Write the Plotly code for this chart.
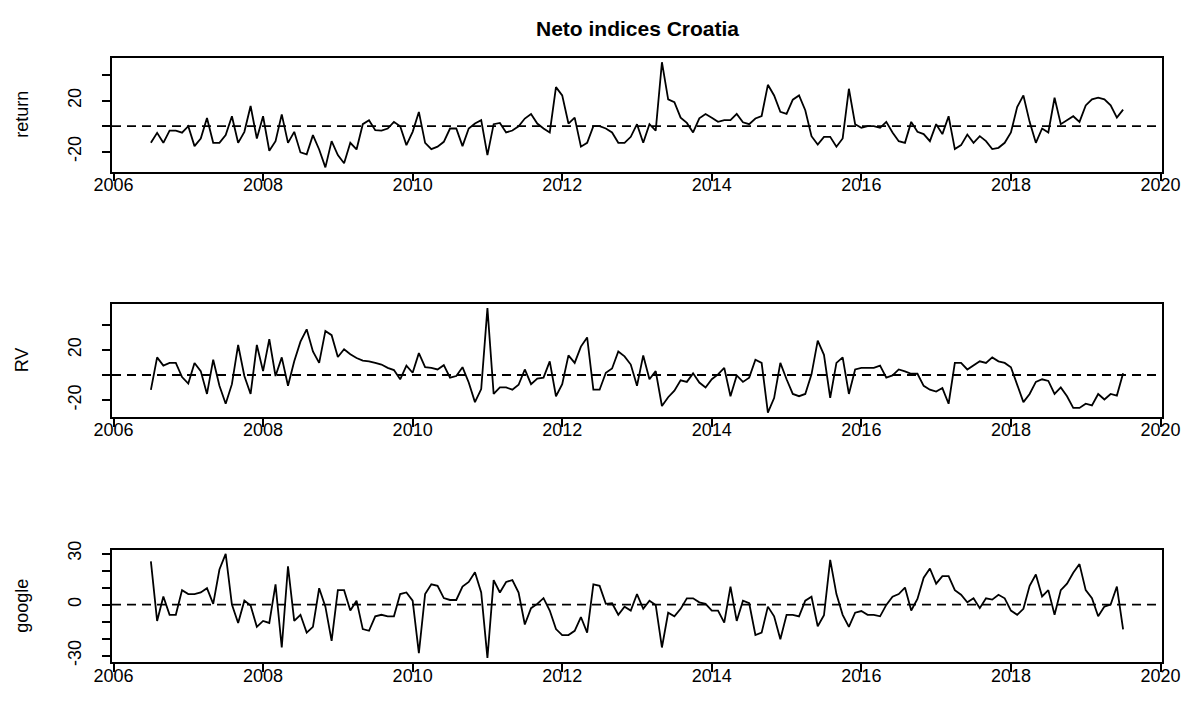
import numpy as np
import plotly.graph_objects as go

# ---------------- data ----------------
start_year = 2006.5          # July 2006, monthly series
n_months = 157
time = [start_year + m / 12 for m in range(n_months)]

ret = [-13, -5.2, -13, -3.4, -3.4, -5, 0, -15.6, -9.6, 6.5, -13, -13, -7, 7.8, -13, -4.4, 15.8, -9.6, 7.8,
       -19.2, -11.7, 9.3, -13, -4.4, -20.5, -22, -7, -18.2, -32.2, -11.7, -22.6, -29, -13, -18.2, 1.6, 4.7, -3.1,
       -3.4, -1.8, 3.4, 0, -14.8, -4.4, 11.2, -13, -17.9, -16, -12.2, -1.8, -1.8, -15.6, -1.8, 2.1, 4.7, -22.6,
       1.6, 2.6, -4.9, -3.4, 0, 6, 9.6, 2.1, -1.8, -4.9, 30.6, 24.1, 2.1, 6.7, -16, -13, 0, 0, -1.8, -4.9, -13,
       -13, -8.3, 1.6, -13,
       1.6, -3.4, 50.1, 21, 18.9, 6.7, 2.6, -4.9, 6.2, 9.6, 6.7, 3.4, 4.7, 4.7, 9.6, 3.1, 1.6, 6, 8, 32.4, 24.1,
       11.2, 9.6, 20.8, 24.1, 12.5, -7.8, -14.3, -8.3, -8.3, -16.1, -9.6, 29.3, 1.6, -1.3, 0, 0, -1.3, 3.4, -4.9,
       -11.7, -13, 3.4,
       -4.4, -6.2, -11.7, 1.6, -6.2, 7.8, -17.9, -14.8, -6.5, -13, -7.8, -11.7, -17.9, -16.9, -13, -4.9, 15, 24.1,
       3.4, -13, -1.8, -4.9, 22.3, 1.6, 4.7, 7.8, 3.4, 16.3, 21, 22.3, 21, 16.3, 6.7, 13]

rv = [-11.9, 14, 7.5, 9.6, 9.6, -1.6, -6.8, 9.6, 3.1, -15.1, 12.2, -8.6, -22.9, -7.3, 23.9, -0.8, -15.1, 23.9,
      3.1, 28.6, -0.8, 14, -8.6, 10.9, 26.5, 36.4, 18.7, 9.6, 35.1, 31.7, 14.3, 20.5, 16.6, 13.5, 11.4, 10.9, 9.6,
      8.3, 5.7, 3.9, -3.4, 7.5, 1.8, 17.4, 6.2, 5.7, 4.4, 7.8, -2.1, -0.8, 6.2, -6, -21.6, -11.2, 53.2, -15.1,
      -9.9, -9.9, -11.7, -7.8, 4.4, -7.3, -2.9, -2.1, 10.9, -16.9, -7.3, 15.6, 9.6, 22.6, 29.9, -11.7, -11.7,
      1.8, 5.2, 18.7, 14.8, 8.3, -8.6, 15.6,
      -3.4, 3.1, -24.7, -17.7, -12.5, -4.2, -5.5, 1.3, -6, -9.9, -3.4, 0.5, 5.7, -16.9, -0.3, -5.5, -2.1, 12.2,
      9.6, -29.9, -18.4, 9.6, -3.4, -15.1, -16.9, -15.1, 0.5, 27.3, 16.1, -18.2, 9.6, 14, -15.1, 4.4, 5.7, 5.7,
      5.7, 7.5, -2.1, -0.3, 4.4, 2.9, 1,
      1, -8.6, -11.7, -13.2, -10.4, -22.9, 9.6, 9.6, 4.4, 7.5, 10.9, 9.6, 14, 10.9, 9.6, 6.2, -8.6, -21.6, -15.1,
      -5.5, -3.4, -4.7, -15.1, -9.9, -16.9, -26.2, -26.2, -22.9, -24.2, -15.1, -19.5, -15.1, -16.4, 1.3]

google = [25.4, -9.6, 4.8, -6, -6, 8.5, 6.2, 6.2, 7.1, 9.6, 0.4, 20.6, 29.8, 0, -10.8, 2.3, -0.6, -13.1, -9.6,
          -10.8, 11.9, -25.2, 22.5, -9.6, -6, -16.5, -13.1, 9.6, -1.2, -21.3, 8.5, 8.5, -3.5, 2.3, -14.4, -15.4,
          -6.9,
          -6, -6.9, -6.9, 6.2, 7.1, 2.3, -28.5, 6.2, 11.9, 11, 3.8, 2.7, 2.7, 10.6, 13.3, 19, 7.1, -31.3, 14.4,
          7.1, 13.3, 14.4, 7.1, -11.7, -2.1, 0.4, 3.8, -3.5, -14.4, -17.9, -17.9, -15.4, -7.3, -16.5, 11.9, 11,
          0.4, 0.8, -6, -1.2, -3.5, 6.2, -2.5,
          2.3, -0.2, -25.2, -4.8, -6.9, -2.5, 3.7, 3.7, 1.3, 0.4, -3.5, -3.5, -10.6, 10.6, -9.6, 2.3, 0.8, -17.9,
          -16.5, -1.2, -6.9, -20.4, -6, -6, -6.9, 2.3, 4.6, -12.7, -6.3, 26.3, 6.2, -6, -13.1, -4.8, -3.8, -6, -6,
          -6.9, -0.2, 4.6, 6.2, 10, -3.5,
          3.3, 15.8, 21.2, 12.3, 16.7, 16.7, 8.5, 5.8, 1.3, 3.7, -2.1, 3.7, 2.9, 5.8, 3.7, -3.5, -6, -2.5, 11, 17.7,
          4.8, 8.5, -6, 8.5, 12.3, 18.7, 23.8, 8.5, 3.8, -6.9, -1.2, 0, 10.6, -14.6]

series_names = ["return", "RV", "google"]
chart_title = "Neto indices Croatia"

x_tickvals = [2006, 2008, 2010, 2012, 2014, 2016, 2018, 2020]
x_ticktext = ["2006", "2008", "2010", "2012", "2014", "2016", "2018", "2020"]

ret_tickvals = [-20, 0, 20, 40]
ret_ticktext = ["-20", "", "20", ""]
rv_tickvals = [-20, 0, 20, 40]
rv_ticktext = ["-20", "", "20", ""]
google_tickvals = [-30, -20, -10, 0, 10, 20, 30]
google_ticktext = ["-30", "", "", "0", "", "", "30"]

# ---------------- figure ----------------
# the page body has an 8px margin, so the figure is drawn 8px smaller/shifted
W, H = 1186, 712
ML, MR, MT, MB = 104, 32, 50, 58
PW, PH = W - ML - MR, H - MT - MB
FONT = "Liberation Sans, Arial, Helvetica, sans-serif"
LW = 1.8

domains = [[0.812, 1.0], [0.4061, 0.5927], [0.0, 0.1859]]
series = [ret, rv, google]
ticks = [(ret_tickvals, ret_ticktext), (rv_tickvals, rv_ticktext), (google_tickvals, google_ticktext)]


def r_range(vals):
    lo, hi = min(vals), max(vals)
    r = hi - lo
    return [lo - 0.04 * r, hi + 0.04 * r]


xr = r_range(time)

fig = go.Figure()
layout = dict(
    width=W, height=H,
    margin=dict(l=ML, r=MR, t=MT, b=MB, pad=0),
    paper_bgcolor="white", plot_bgcolor="white",
    showlegend=False,
    font=dict(family=FONT, size=18, color="black"),
)

annotations = []
shapes = []
for k, (vals, name) in enumerate(zip(series, series_names)):
    sfx = "" if k == 0 else str(k + 1)
    fig.add_trace(go.Scatter(x=time, y=vals, mode="lines",
                             line=dict(color="black", width=LW),
                             xaxis="x" + sfx, yaxis="y" + sfx, hoverinfo="skip"))
    layout["xaxis" + sfx] = dict(
        domain=[0, 1], anchor="y" + sfx, range=xr,
        tickmode="array", tickvals=x_tickvals, ticktext=x_ticktext,
        ticks="outside", ticklen=8, tickwidth=LW, tickcolor="black",
        ticklabelstandoff=-12,
        showline=True, linecolor="black", linewidth=LW, mirror=True,
        showgrid=False, zeroline=False,
        tickfont=dict(family=FONT, size=18, color="black"),
    )
    tv, tt = ticks[k]
    layout["yaxis" + sfx] = dict(
        domain=domains[k], anchor="x" + sfx, range=r_range(vals),
        tickmode="array", tickvals=tv, ticktext=tt, tickangle=-90,
        ticks="outside", ticklen=8, tickwidth=LW, tickcolor="black",
        ticklabelstandoff=14,
        showline=True, linecolor="black", linewidth=LW, mirror=True,
        showgrid=False, zeroline=False,
        tickfont=dict(family=FONT, size=18, color="black"),
    )
    shapes.append(dict(type="line", xref="x" + sfx + " domain", yref="y" + sfx,
                       x0=0, x1=1, y0=0, y1=0,
                       line=dict(color="black", width=LW, dash="9px,6px")))
    annotations.append(dict(text=name, xref="paper", yref="paper",
                            x=(14 - ML) / PW, y=(domains[k][0] + domains[k][1]) / 2,
                            xanchor="center", yanchor="middle", textangle=-90,
                            showarrow=False, font=dict(family=FONT, size=18, color="black")))

annotations.append(dict(text="<b>" + chart_title + "</b>", xref="paper", yref="paper",
                        x=0.5, y=(H - MB - 20) / PH, xanchor="center", yanchor="middle",
                        showarrow=False, font=dict(family=FONT, size=21, color="black")))

layout["annotations"] = annotations
layout["shapes"] = shapes
fig.update_layout(**layout)

fig.write_html("out.html")
